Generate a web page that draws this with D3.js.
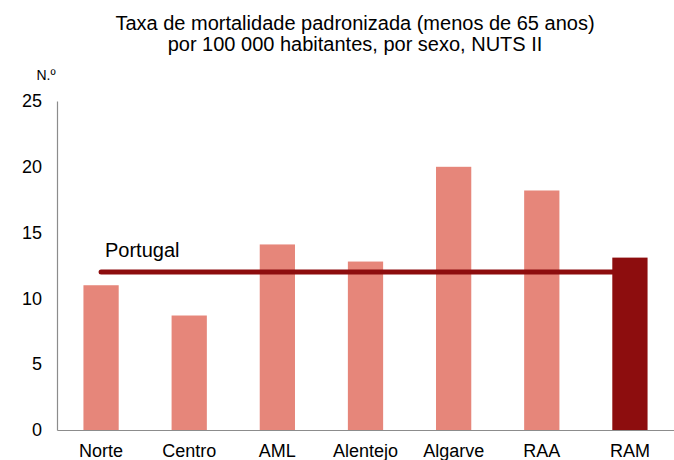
<!DOCTYPE html>
<html>
<head>
<meta charset="utf-8">
<script src="https://cdn.jsdelivr.net/npm/d3@7"></script>
<style>
  body { margin: 0; background: #fff; }
  svg text { font-family: "Liberation Sans", Arial, sans-serif; fill: #000; }
</style>
</head>
<body>
<svg width="674" height="460"></svg>
<script>
// dados
const regioes = ["Norte", "Centro", "AML", "Alentejo", "Algarve", "RAA", "RAM"];
const taxas = [11.0, 8.7, 14.1, 12.8, 20.0, 18.2, 13.1];
const portugal = 12.0;
const yTicks = [0, 5, 10, 15, 20, 25];
const titulo = ["Taxa de mortalidade padronizada (menos de 65 anos)", "por 100 000 habitantes, por sexo, NUTS II"];

const svg = d3.select("svg");

// escalas
const x = d3.scaleBand().domain(regioes).range([57, 674]).paddingInner(0.6).paddingOuter(0.3);
const y = d3.scaleLinear().domain([0, 25]).range([430, 101]);

// titulo
svg.selectAll(".titulo")
  .data(titulo)
  .enter()
  .append("text")
  .attr("x", 355)
  .attr("y", (d, i) => 30 + i * 21)
  .attr("text-anchor", "middle")
  .style("font-size", "20px")
  .text(d => d);

svg.append("text")
  .attr("x", 46)
  .attr("y", 80)
  .attr("text-anchor", "middle")
  .style("font-size", "14px")
  .text("N.º");

// barras
svg.selectAll(".barra")
  .data(regioes)
  .enter()
  .append("rect")
  .attr("class", "barra")
  .attr("x", d => x(d))
  .attr("y", (d, i) => y(taxas[i]))
  .attr("width", x.bandwidth())
  .attr("height", (d, i) => y(0) - y(taxas[i]))
  .attr("fill", d => d === "RAM" ? "#8d0d0e" : "#e6867a");

// linha Portugal (fica por baixo da barra RAM)
svg.insert("line", ".barra:last-of-type")
  .attr("x1", x("Norte") + x.bandwidth() / 2)
  .attr("x2", x("RAM") + x.bandwidth() / 2)
  .attr("y1", y(portugal))
  .attr("y2", y(portugal))
  .attr("stroke", "#8d0d0e")
  .attr("stroke-width", 5)
  .attr("stroke-linecap", "round");

svg.append("text")
  .attr("x", 105)
  .attr("y", 257)
  .style("font-size", "20px")
  .text("Portugal");

// eixos
const eixoY = svg.append("g")
  .attr("transform", "translate(57,0)")
  .call(d3.axisLeft(y).tickValues(yTicks).tickSize(0).tickPadding(15));
eixoY.select(".domain").attr("stroke", "#8c8c8c").attr("stroke-width", 1.2);
eixoY.selectAll("text").style("font-size", "18px").style("font-family", "Liberation Sans, Arial, sans-serif");

const eixoX = svg.append("g")
  .attr("transform", "translate(0,430)")
  .call(d3.axisBottom(x).tickSize(0).tickPadding(14));
eixoX.select(".domain").attr("stroke", "#8c8c8c").attr("stroke-width", 1.2);
eixoX.selectAll("text").style("font-size", "18px").style("font-family", "Liberation Sans, Arial, sans-serif");
</script>
</body>
</html>
